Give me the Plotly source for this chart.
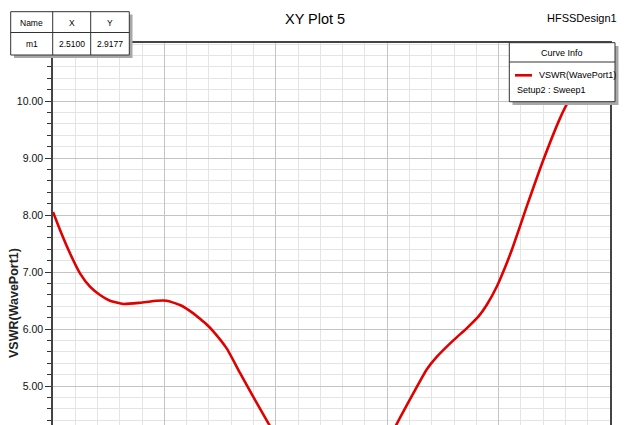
import plotly.graph_objects as go

# ---- data ----
freq_ghz = [2.000, 2.0126, 2.0305, 2.0485, 2.0664, 2.0844, 2.1023, 2.1262, 2.1562, 2.1862,
            2.2041, 2.2280, 2.2519, 2.2640, 2.2759, 2.2878, 2.3118, 2.3357, 2.3596, 2.3865,
            2.4255, 2.4614, 2.4970, 2.5100, 2.5330, 2.5690, 2.5960,
            2.6170, 2.6468, 2.6709, 2.6889, 2.7187, 2.7427, 2.7636, 2.7786, 2.7966,
            2.8115, 2.8253, 2.8504, 2.8803, 2.9102, 2.9251, 2.9460, 3.0000]
vswr = [8.053, 7.737, 7.328, 6.977, 6.742, 6.596, 6.496, 6.439, 6.461, 6.496,
        6.496, 6.421, 6.275, 6.180, 6.080, 5.960, 5.660, 5.230, 4.810, 4.350,
        3.700, 3.250, 2.970, 2.9177, 2.980, 3.400, 3.900,
        4.330, 4.870, 5.290, 5.510, 5.800, 6.012, 6.216, 6.421, 6.742,
        7.080, 7.430, 8.146, 8.965, 9.696, 9.988, 10.280, 10.720]
y_ticks = [5, 6, 7, 8, 9, 10]
y_tick_labels = ["5.00", "6.00", "7.00", "8.00", "9.00", "10.00"]
marker_name = "m1"
marker_x = "2.5100"
marker_y = "2.9177"
trace_name = "VSWR(WavePort1)"
sweep_name = "Setup2 : Sweep1"

W, H = 628, 425
L, R, T, B = 53, 610, 43, 425
FONT = "Liberation Sans Narrow, Arial Narrow, Liberation Sans, Arial, sans-serif"

def px(x):
    return (x - L) / (R - L)

def py(y):
    return (B - y) / (B - T)

fig = go.Figure()
fig.add_trace(go.Scatter(x=freq_ghz, y=vswr, mode="lines",
                         line=dict(color="#e00000", width=2.6, shape="spline", smoothing=0.5),
                         name=trace_name, showlegend=False, hoverinfo="skip"))

shapes = []
annos = []

def rect(x0, y0, x1, y1, fill, line_color=None, lw=1):
    shapes.append(dict(type="rect", xref="paper", yref="paper", x0=px(x0), x1=px(x1),
                       y0=py(y0), y1=py(y1), fillcolor=fill,
                       line=dict(color=line_color or fill, width=lw if line_color else 0),
                       layer="above"))

def hline(x0, x1, y, color="#333", lw=1):
    shapes.append(dict(type="line", xref="paper", yref="paper", x0=px(x0), x1=px(x1),
                       y0=py(y), y1=py(y), line=dict(color=color, width=lw), layer="above"))

def vline(x, y0, y1, color="#333", lw=1):
    shapes.append(dict(type="line", xref="paper", yref="paper", x0=px(x), x1=px(x),
                       y0=py(y0), y1=py(y1), line=dict(color=color, width=lw), layer="above"))

def text(x, y, s, size, anchor="center", color="#111", angle=0):
    annos.append(dict(xref="paper", yref="paper", x=px(x), y=py(y), text=s, showarrow=False,
                      xanchor=anchor, yanchor="middle", textangle=angle,
                      font=dict(family=FONT, size=size, color=color)))

# marker table
rect(14, 14.5, 132.5, 58, "#a8a8a8")
rect(10.7, 11.7, 129.3, 55, "white", "#333", 1)
hline(10.7, 129.3, 32.5)
vline(52.7, 11.7, 55)
vline(90.7, 11.7, 55)
for cx, s in zip([31.7, 71.7, 110], ["Name", "X", "Y"]):
    text(cx, 22.5, s, 8.5, color="#000")
for cx, s in zip([31.7, 71.7, 110], [marker_name, marker_x, marker_y]):
    text(cx, 44, s, 8.5, color="#000")

# curve info box
rect(512.5, 46, 618.5, 105, "#a8a8a8")
rect(509.3, 42.7, 615, 101.7, "white", "#333", 1)
hline(509.3, 615, 62)
text(562, 52.5, "Curve Info", 9, color="#000")
hline(515, 532, 75.3, "#e00000", 2.6)
text(537, 75, trace_name, 9, anchor="left", color="#000")
text(515, 90, sweep_name, 9, anchor="left", color="#000")

# titles
text(314.7, 19, "XY Plot 5", 14.5, color="#000")
text(619, 17.5, "HFSSDesign1", 11, anchor="right", color="#000")
text(14, 303, "<b>" + trace_name + "</b>", 12.5, color="#222", angle=-90)

fig.update_layout(
    width=W, height=H,
    margin=dict(l=L, r=W - R, t=T, b=0, pad=0),
    paper_bgcolor="white", plot_bgcolor="white",
    showlegend=False,
    shapes=shapes, annotations=annos,
    xaxis=dict(range=[2.0, 3.0], tick0=2.0, dtick=0.2, showticklabels=False,
               showgrid=True, gridcolor="#c4c4c4", gridwidth=1,
               showline=True, linecolor="#444", linewidth=1.5, mirror=True,
               ticks="", zeroline=False,
               minor=dict(dtick=0.04, showgrid=True, gridcolor="#e4e4e4", gridwidth=1)),
    yaxis=dict(range=[4.316, 11.018], tickvals=y_ticks, ticktext=y_tick_labels,
               showgrid=True, gridcolor="#c4c4c4", gridwidth=1,
               showline=True, linecolor="#444", linewidth=1.5, mirror=True,
               ticks="outside", ticklen=6, tickcolor="#333", tickwidth=1.2,
               tickfont=dict(family=FONT, size=10.5, color="#111"),
               zeroline=False,
               minor=dict(dtick=0.2, tick0=0, ticks="outside", ticklen=4, tickcolor="#333",
                          showgrid=True, gridcolor="#e4e4e4", gridwidth=1)),
)

fig.write_html("out.html", config={"displayModeBar": False},
               post_script="document.body.style.margin='0';document.body.style.overflow='hidden';")
